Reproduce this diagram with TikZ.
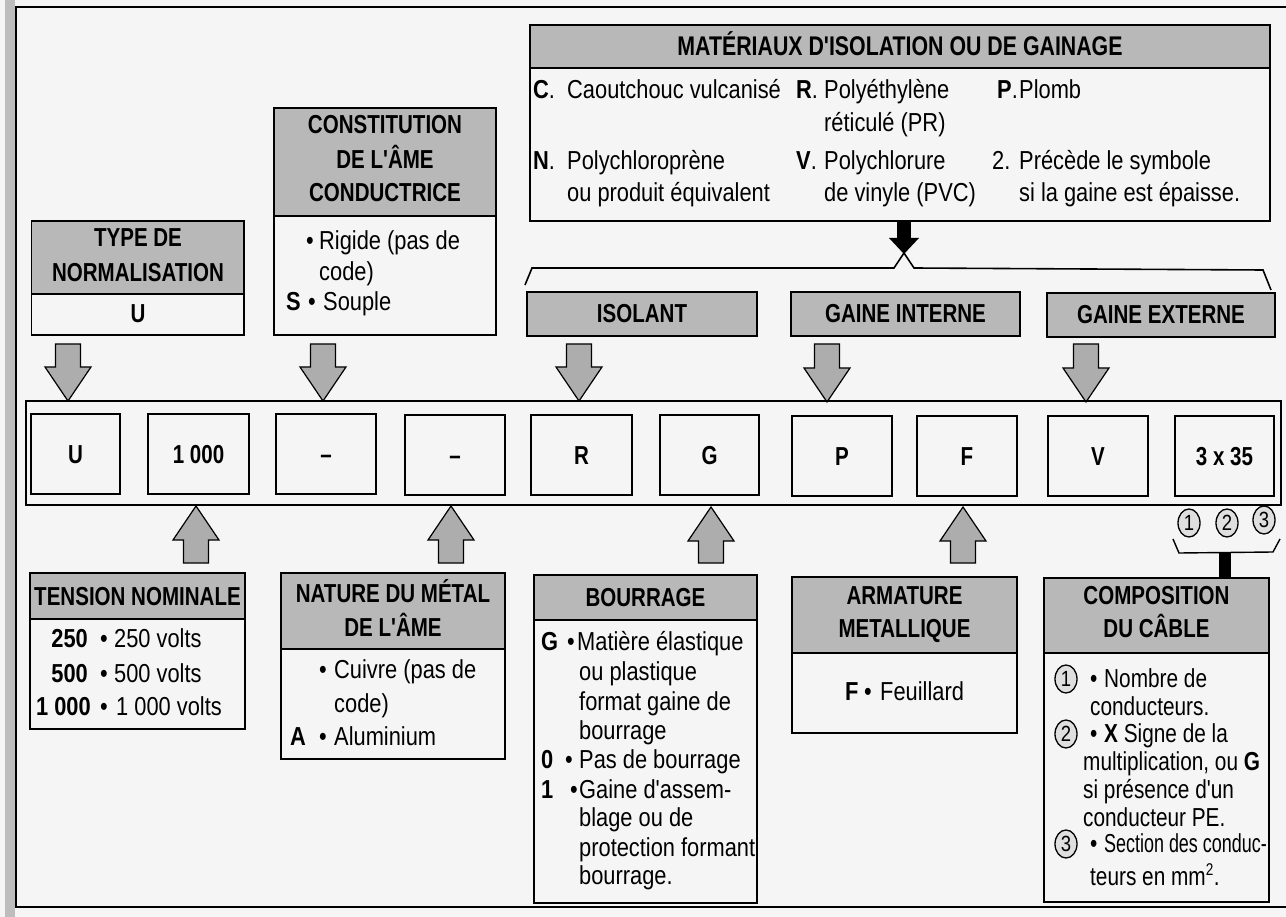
\documentclass[tikz,border=0pt]{standalone}
\usepackage{fontspec}
\setmainfont{Liberation Sans}[FakeStretch=0.84, Ligatures=TeXOff]
\newfontfamily\hfont{Liberation Sans}[FakeStretch=0.79, Ligatures=TeXOff]
\newfontfamily\cfont{Liberation Sans}[FakeStretch=0.80, Ligatures=TeXOff]
\newfontfamily\nfont{Liberation Sans}[FakeStretch=0.69, Ligatures=TeXOff]
\usetikzlibrary{shapes.geometric}
\definecolor{paper}{gray}{0.96}
\definecolor{hdr}{gray}{0.72}
\definecolor{arr}{gray}{0.68}
\definecolor{band}{gray}{0.74}
\newcommand\bsz{\fontsize{26}{30}\selectfont}
\newcommand\csz{\cfont\fontsize{26}{30}\selectfont}
\newcommand\hsz{\hfont\bfseries\fontsize{26}{34}\selectfont}
\newcommand\dnarrow[3]{%
  \filldraw[fill=arr, draw=black, line width=1.2pt]
   (#1-12.5,#2) -- (#1+12.5,#2) -- (#1+12.5,#3-34) -- (#1+23,#3-34) -- (#1,#3)
   -- (#1-23,#3-34) -- (#1-12.5,#3-34) -- cycle;}
\newcommand\uparr[3]{%
  \filldraw[fill=arr, draw=black, line width=1.2pt]
   (#1,#2) -- (#1+23,#2+34) -- (#1+12.5,#2+34) -- (#1+12.5,#3) -- (#1-12.5,#3)
   -- (#1-12.5,#2+34) -- (#1-23,#2+34) -- cycle;}
\begin{document}
\begin{tikzpicture}[x=1pt,y=-1pt,
  hd/.style={font=\hsz, anchor=base, inner sep=0pt},
  bd/.style={font=\bsz, anchor=base west, inner sep=0pt},
  bdc/.style={font=\csz, anchor=base west, inner sep=0pt},
  bdr/.style={font=\bsz\bfseries, anchor=base east, inner sep=0pt},
  cell/.style={draw, line width=2.6pt, inner sep=0pt, font=\hsz, text height=18.6pt, text depth=0pt},
  num/.style={ellipse, draw, line width=1.3pt, fill=gray!25, inner sep=0pt, minimum width=22pt, minimum height=28pt, font=\fontsize{22}{22}\selectfont},
  boxline/.style={draw, line width=1.8pt},
  hbox/.style={draw, line width=1.8pt, fill=hdr},
]
\useasboundingbox (0,0) rectangle (1286,917);
\fill[paper] (0,0) rectangle (1286,917);
\fill[band] (5,0) rectangle (15,917);
\draw[line width=1.8pt] (1286,7) -- (16,7) -- (16,907) -- (1286,907);

% ---- Materiaux
\draw[hbox] (530,25) rectangle (1270,68);
\draw[boxline] (530,68) rectangle (1270,221);
\node[hd, font=\hsz\fontsize{27}{34}\selectfont] (matT) at (900,56) {MATÉRIAUX D'ISOLATION OU DE GAINAGE};
\node[bd] (m1) at (533,99) {\textbf{C}.};
\node[bd] (m2) at (567,99) {Caoutchouc vulcanisé};
\node[bd] (m3) at (796,99) {\textbf{R}.};
\node[bd] (m4) at (824,99) {Polyéthylène};
\node[bd] (m5) at (824,132) {réticulé (PR)};
\node[bd] (m6) at (997,99) {\textbf{P}.};
\node[bd] (m7) at (1019,99) {Plomb};
\node[bd] (m8) at (533,170) {\textbf{N}.};
\node[bd] (m9) at (567,170) {Polychloroprène};
\node[bd] (m10) at (567,202) {ou produit équivalent};
\node[bd] (m11) at (796,170) {\textbf{V}.};
\node[bd] (m12) at (824,170) {Polychlorure};
\node[bd] (m13) at (824,202) {de vinyle (PVC)};
\node[bd] (m14) at (992,170) {2.};
\node[bd] (m15) at (1019,170) {Précède le symbole};
\node[bd] (m16) at (1019,202) {si la gaine est épaisse.};

% black arrow and brace
\fill (897,222) rectangle (911,238);
\fill (889,238) -- (919,238) -- (904,254) -- cycle;
\draw[line width=1.6pt] (525,285) -- (532,268) -- (894,268) -- (904,253) -- (914,268) -- (1263,270) -- (1271,290);

% ---- isolant / gaines
\draw[hbox] (527,292) rectangle (757,336);
\node[hd] (iso) at (642,323) {ISOLANT};
\draw[hbox] (791,292) rectangle (1020,336);
\node[hd] (gi) at (905.5,323) {GAINE INTERNE};
\draw[hbox] (1047,293) rectangle (1275,337);
\node[hd] (ge) at (1161,324) {GAINE EXTERNE};

% ---- type de normalisation
\draw[hbox] (31.5,221) rectangle (244,294);
\draw[boxline] (31.5,294) rectangle (244,335);
\node[hd] (ty1) at (138,247) {TYPE DE};
\node[hd] (ty2) at (138,282) {NORMALISATION};
\node[hd] (ty3) at (138,323) {U};

% ---- constitution
\draw[hbox] (274,108) rectangle (496,216);
\draw[boxline] (274,216) rectangle (496,335);
\node[hd] (co1) at (385,134) {CONSTITUTION};
\node[hd] (co2) at (385,169) {DE L'ÂME};
\node[hd] (co3) at (385,202) {CONDUCTRICE};
\node[bd] (co4) at (306,250) {•};
\node[bd] (co5) at (319,250) {Rigide (pas de};
\node[bd] (co6) at (319,281) {code)};
\node[bd] (co7) at (286,311) {\textbf{S}};
\node[bd] (co8) at (308,311) {•};
\node[bd] (co9) at (323,311) {Souple};

% ---- down arrows
\dnarrow{68}{344}{401}
\dnarrow{323}{344}{401}
\dnarrow{579}{344}{401}
\dnarrow{827}{344}{402}
\dnarrow{1086}{344}{402}

% ---- strip
\draw[line width=1.5pt] (26,401) rectangle (1281,505);
\node[cell, minimum width=89pt, minimum height=80pt] (cU) at (75.5,454) {U};
\node[cell, minimum width=101pt, minimum height=80pt] (c1000) at (198.5,454) {1 000};
\node[cell, minimum width=100pt, minimum height=80pt] (cd1) at (326,454) {–};
\node[cell, minimum width=100pt, minimum height=80pt] (cd2) at (455,455) {–};
\node[cell, minimum width=101pt, minimum height=80pt] (cR) at (581.5,455) {R};
\node[cell, minimum width=99pt, minimum height=80pt] (cG) at (709.5,455) {G};
\node[cell, minimum width=100pt, minimum height=80pt] (cP) at (842,456) {P};
\node[cell, minimum width=100pt, minimum height=80pt] (cF) at (967,456) {F};
\node[cell, minimum width=100pt, minimum height=80pt] (cV) at (1098,456) {V};
\node[cell, minimum width=99pt, minimum height=80pt] (c335) at (1224.5,456) {3 x 35};

% ---- up arrows
\uparr{196}{506}{563}
\uparr{451}{506}{563}
\uparr{711}{507}{563}
\uparr{963}{507}{563}

% ---- circled numbers and bracket
\node[num] (n1) at (1189,523) {1};
\node[num] (n2) at (1227,523) {2};
\node[num] (n3) at (1264,520) {3};
\draw[line width=1.4pt] (1173,539) -- (1179,553) -- (1273,552) -- (1280,539);
\fill (1219,553) rectangle (1231,578);

% ---- tension nominale
\draw[hbox] (30,573) rectangle (245,619);
\draw[boxline] (30,619) rectangle (245,729);
\node[hd] (tn) at (137.5,605) {TENSION NOMINALE};
\node[bdr] (t1) at (88,647) {250};
\node[bd] (t2) at (100,647) {•};
\node[bd] (t3) at (114,647) {250 volts};
\node[bdr] (t4) at (88,682) {500};
\node[bd] (t5) at (100,682) {•};
\node[bd] (t6) at (114,682) {500 volts};
\node[bdr] (t7) at (91,715) {1 000};
\node[bd] (t8) at (100,715) {•};
\node[bd] (t9) at (116,715) {1 000 volts};

% ---- nature du metal
\draw[hbox] (281,573) rectangle (505,649);
\draw[boxline] (281,649) rectangle (505,759);
\node[hd] (na1) at (393,602) {NATURE DU MÉTAL};
\node[hd] (na2) at (393,636) {DE L'ÂME};
\node[bd] (na3) at (319,678) {•};
\node[bd] (na4) at (334,678) {Cuivre (pas de};
\node[bd] (na5) at (334,712) {code)};
\node[bd] (na6) at (290,745) {\textbf{A}};
\node[bd] (na7) at (319,745) {•};
\node[bd] (na8) at (334,745) {Aluminium};

% ---- bourrage
\draw[hbox] (534,575) rectangle (757,620);
\draw[boxline] (534,620) rectangle (757,903);
\node[hd] (bo) at (645.5,606) {BOURRAGE};
\node[bd] (b1) at (541,650) {\textbf{G}};
\node[bd] (b2) at (567,650) {•};
\node[bd] (b3) at (577,650) {Matière élastique};
\node[bd] (b4) at (579,680) {ou plastique};
\node[bd] (b5) at (579,710) {format gaine de};
\node[bd] (b6) at (579,739) {bourrage};
\node[bd] (b7) at (541,768) {\textbf{0}};
\node[bd] (b8) at (565,768) {•};
\node[bd] (b9) at (579,768) {Pas de bourrage};
\node[bd] (b10) at (541,798) {\textbf{1}};
\node[bd] (b11) at (570,798) {•};
\node[bd] (b12) at (579,798) {Gaine d'assem-};
\node[bd] (b13) at (579,826) {blage ou de};
\node[bd] (b14) at (579,856) {protection formant};
\node[bd] (b15) at (579,884) {bourrage.};

% ---- armature
\draw[hbox] (792,577) rectangle (1017,653);
\draw[boxline] (792,653) rectangle (1017,733);
\node[hd] (ar1) at (904.5,604) {ARMATURE};
\node[hd] (ar2) at (904.5,637) {METALLIQUE};
\node[bd] (ar3) at (845,700) {\textbf{F}};
\node[bd] (ar4) at (864,700) {•};
\node[bd] (ar5) at (880,700) {Feuillard};

% ---- composition
\draw[hbox] (1044,578) rectangle (1269,653);
\draw[boxline] (1044,653) rectangle (1269,902);
\node[hd] (cp1) at (1156.5,604) {COMPOSITION};
\node[hd] (cp2) at (1156.5,637) {DU CÂBLE};
\node[num] (cn1) at (1066,679) {1};
\node[bdc] (cb1) at (1090,687) {•};
\node[bdc] (ct1) at (1104,687) {Nombre de};
\node[bdc] (ct2) at (1090,715) {conducteurs.};
\node[num] (cn2) at (1066,734) {2};
\node[bdc] (cb2) at (1090,742) {•};
\node[bdc] (ct3) at (1104,742) {\textbf{X} Signe de la};
\node[bdc] (ct4) at (1083,770) {multiplication, ou \textbf{G}};
\node[bdc] (ct5) at (1083,798) {si présence d'un};
\node[bdc] (ct6) at (1083,826) {conducteur PE.};
\node[num] (cn3) at (1066,844) {3};
\node[bdc] (cb3) at (1090,852) {•};
\node[bd, font=\nfont\fontsize{26}{30}\selectfont] (ct7) at (1104,852) {Section des conduc-};
\node[bdc, font=\cfont\fontsize{26}{30}\selectfont] (ct8) at (1090,885) {teurs en mm\textsuperscript{\fontsize{17}{17}\selectfont 2}.};
\end{tikzpicture}
\end{document}
